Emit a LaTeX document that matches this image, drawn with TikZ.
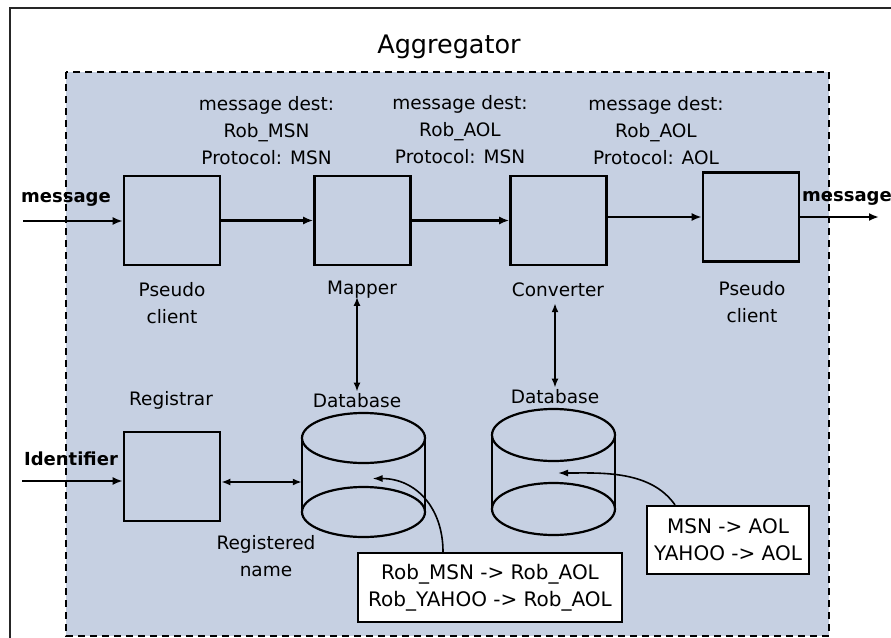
\documentclass[tikz,border=0pt]{standalone}
\usepackage{fontspec}
\setmainfont{DejaVu Sans}
\usetikzlibrary{arrows.meta,positioning,calc}
\definecolor{aggfill}{HTML}{C6D0E2}
\tikzset{
  block/.style={rectangle, draw=black, line width=2.6pt,
                minimum width=96pt, minimum height=89pt, inner sep=0pt},
  rulebox/.style={rectangle, draw=black, line width=2.2pt, fill=white,
                  align=center, inner sep=0pt,
                  font=\fontsize{20}{27}\selectfont},
  lbl/.style={align=center, inner sep=2pt, font=\fontsize{18.5}{27}\selectfont},
  inlbl/.style={inner sep=2pt, font=\fontsize{18}{20}\selectfont\bfseries},
  flow/.style={-{Latex[length=10pt,width=8pt]}, line width=2.6pt},
  link/.style={{Latex[length=9pt,width=7pt]}-{Latex[length=9pt,width=7pt]},
               line width=2pt},
  feed/.style={-{Latex[length=10pt,width=7pt]}, line width=1.6pt},
  dbline/.style={line width=2.2pt}
}

\begin{document}
\begin{tikzpicture}[x=1pt, y=-1pt]
  \useasboundingbox (0,0) rectangle (891,637);

  % Frame and aggregator area
  \draw[line width=1.6pt, black!85] (10,8) rectangle (905,660);
  \draw[fill=aggfill, line width=2.6pt, dash pattern=on 7pt off 5pt]
       (66,72) rectangle (829,636);
  \node[font=\fontsize{25.5}{30}\selectfont] (title) at (449,47) {Aggregator};

  % Message path
  \node[block] (pc1)    at (172,220.5) {};
  \node[block] (mapper) at (362.5,220.5) {};
  \node[block] (conv)   at (558.5,220.5) {};
  \node[block] (pc2)    at (751,217) {};

  \node[lbl] (dest1) at (266.5,131) {message dest:\\Rob\_MSN\\Protocol: MSN};
  \node[lbl] (dest2) at (460,130)   {message dest:\\Rob\_AOL\\Protocol: MSN};
  \node[lbl] (dest3) at (656,131)   {message dest:\\Rob\_AOL\\Protocol: AOL};

  \node[lbl] (pc1lbl)  at (172,303) {Pseudo\\client};
  \node[lbl] (maplbl)  at (362,290) {Mapper};
  \node[lbl] (convlbl) at (558,290) {Converter};
  \node[lbl] (pc2lbl)  at (752,302) {Pseudo\\client};

  \coordinate (msgin)  at (23,221);
  \coordinate (msgout) at (879,219);
  \node[inlbl] (msginlbl)  at (66,199)  {message};
  \node[inlbl] (msgoutlbl) at (847,198) {message};

  \draw[flow] (msgin) -- (msgin -| pc1.west);
  \draw[flow] (pc1) -- (mapper);
  \draw[flow] (mapper) -- (conv);
  \draw[flow] (conv.east |- pc2) -- (pc2);
  \draw[flow] (pc2.east) -- (pc2.east -| msgout);

  % Registration
  \node[block] (reg) at (172,476.5) {};
  \node[lbl] (reglbl) at (171,400) {Registrar};
  \node[lbl] (namelbl) at (266,556) {Registered\\name};
  \coordinate (idin) at (22,481);
  \node[inlbl] (idlbl) at (71,459) {Identifier};
  \draw[flow] (idin) -- (idin -| reg.west);

  % Databases
  \node[minimum width=123pt, minimum height=125pt, inner sep=0pt] (db1) at (363.5,475.5) {};
  \node[minimum width=123pt, minimum height=127pt, inner sep=0pt] (db2) at (553.5,471.5) {};
  \draw[dbline] (363.5,438) ellipse (61.5 and 25);
  \draw[dbline] (363.5,512) ellipse (61.5 and 25);
  \draw[dbline] (db1.west |- 0,438) -- (db1.west |- 0,512)
                (db1.east |- 0,438) -- (db1.east |- 0,512);
  \draw[dbline] (553.5,435) ellipse (61.5 and 26);
  \draw[dbline] (553.5,509) ellipse (61.5 and 26);
  \draw[dbline] (db2.west |- 0,435) -- (db2.west |- 0,509)
                (db2.east |- 0,435) -- (db2.east |- 0,509);
  \node[lbl] (db1lbl) at (357,401) {Database};
  \node[lbl] (db2lbl) at (555,397) {Database};

  \draw[link] (maplbl.south -| db1lbl) ++(0,-4) -- (db1lbl.north);
  \draw[link] ([yshift=-4pt]convlbl.south -| db2lbl) -- (db2lbl.north);
  \draw[link] (reg.east |- 0,482) -- (db1.west |- 0,482);

  % Mapping rules
  \node[rulebox, minimum width=264pt, minimum height=69pt] (rules1) at (490,587.5)
       {Rob\_MSN -> Rob\_AOL\\Rob\_YAHOO -> Rob\_AOL};
  \node[rulebox, minimum width=162pt, minimum height=68pt] (rules2) at (728,540)
       {MSN -> AOL\\YAHOO -> AOL};

  \draw[feed] ([xshift=-47pt]rules1.north) to[out=90, in=0, looseness=1.1]
       ($(db1.center)+(9,3)$);
  \draw[feed] ([xshift=-53pt]rules2.north) to[out=125, in=0, looseness=0.9]
       ($(db2.center)+(4.5,1.5)$);
\end{tikzpicture}
\end{document}
